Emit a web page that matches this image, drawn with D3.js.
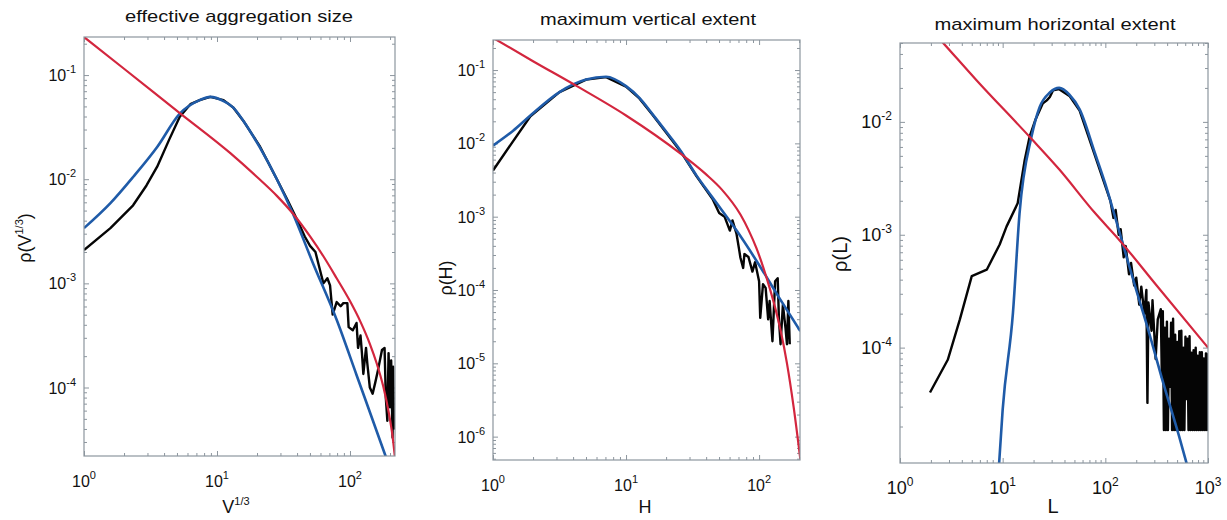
<!DOCTYPE html>
<html>
<head>
<meta charset="utf-8">
<script src="https://cdn.jsdelivr.net/npm/d3@7"></script>
<style>
body{margin:0;background:#fff;}
text{font-family:"Liberation Sans",Arial,sans-serif;fill:#111;}
</style>
</head>
<body>
<div id="chart"></div>
<script>

// ---- data ----
var titles = ["effective aggregation size","maximum vertical extent","maximum horizontal extent"];

// effective aggregation size  (x = V^1/3)
var sizeObs = [[1,2.09e-3],[1.58,3.39e-3],[2.34,5.62e-3],[2.95,8.71e-3],[3.55,0.0132],[4.37,0.024],[5.25,0.0398],
  [6.31,0.0525],[7.41,0.0575],[8.91,0.0617],[11.2,0.0575],[13.2,0.049],[15.8,0.0363],[20.9,0.0209],[28.2,0.01],
  [33.9,6.31e-3],[38.0,4.68e-3],[42.1,3.55e-3],[45.7,2.82e-3],[50.1,2.29e-3],[55.0,2.0e-3],[58.9,1.41e-3],
  [63.1,1.0e-3],[67.6,1.12e-3],[70.8,9.55e-4],[74.1,5.01e-4],[79.4,6.61e-4],[85.1,6.03e-4],[89.1,6.46e-4],
  [95.5,6.46e-4],[97.7,3.80e-4],[105,3.55e-4],[112,4.17e-4],[115,2.40e-4],[120,3.16e-4],[123,2.14e-4],
  [126,1.35e-4],[132,2.40e-4],[135,1.70e-4],[141,1.0e-4],[148,8.71e-5],[155,1.12e-4],[162,1.45e-4],
  [174,2.29e-4],[182,2.40e-4],[186,7.94e-5],[191,4.79e-5],[195,2.14e-4],[200,6.46e-5],[204,1.82e-4],
  [209,3.31e-5],[211,1.58e-4],[214,3.98e-5]];
var sizeLogn = [[1,3.39e-3],[1.58,5.89e-3],[2.34,0.0105],[3.55,0.0204],[5.25,0.0427],[7.41,0.0575],[8.91,0.0617],
  [11.2,0.0562],[13.2,0.049],[15.8,0.0363],[20.9,0.0204],[28.2,0.01],[37.2,4.68e-3],[52.5,1.58e-3],[79.4,4.47e-4],
  [112,1.32e-4],[182,2.34e-5],[200,1.66e-5]];
var sizePow = [[1,0.232],[2.0,0.115],[5.25,0.0432],[12.6,0.0178],[20,0.0105],[28.2,6.92e-3],[37.2,4.68e-3],
  [50.1,2.82e-3],[63.1,1.82e-3],[79.4,1.12e-3],[100,6.76e-4],[120,4.27e-4],[141,2.63e-4],[158,1.74e-4],
  [178,1.02e-4],[195,5.89e-5],[209,3.39e-5],[219,2.0e-5]];

// maximum vertical extent  (x = H)
var vertObs = [[1,4.27e-3],[1.38,0.01],[1.91,0.0234],[3.16,0.05],[5.01,0.0741],[7.08,0.08],[10,0.0595],
  [12.6,0.041],[15.8,0.0246],[20,0.0141],[25.7,7.76e-3],[33.9,3.55e-3],[44.7,1.74e-3],[50.1,1.12e-3],
  [55.0,1.0e-3],[60.3,6.46e-4],[63.1,8.91e-4],[67.6,5.89e-4],[70.8,3.55e-4],[72.4,2.75e-4],[75.9,2.0e-4],
  [77.6,3.09e-4],[83.2,2.82e-4],[89.1,1.78e-4],[93.3,2.40e-4],[100,1.32e-4],[102,4.17e-5],[107,1.20e-4],
  [112,1.07e-4],[117,3.98e-5],[120,7.08e-5],[126,2.0e-5],[132,1.32e-4],[138,1.45e-4],[141,3.98e-5],
  [145,1.82e-5],[151,6.31e-5],[158,3.02e-5],[162,1.82e-5],[166,7.08e-5],[170,1.82e-5]];
var vertLogn = [[1,9.33e-3],[1.41,0.0148],[1.91,0.024],[3.16,0.0501],[5.01,0.0741],[7.08,0.081],[10,0.0603],
  [12.6,0.0417],[15.8,0.0251],[20,0.0145],[25.7,7.94e-3],[33.9,3.63e-3],[44.7,1.82e-3],[68.4,6.31e-4],
  [95.5,2.51e-4],[141,7.94e-5],[204,2.75e-5]];
var vertPow = [[1,0.275],[2.0,0.132],[4.27,0.0603],[10,0.024],[25.7,7.24e-3],[39.8,3.80e-3],[52.5,2.34e-3],
  [72.4,1.07e-3],[83.2,6.61e-4],[95.5,3.72e-4],[107,2.09e-4],[120,1.07e-4],[132,5.75e-5],[145,2.82e-5],
  [162,1.0e-5],[182,2.51e-6],[204,5.0e-7]];

// maximum horizontal extent  (x = L)
var horizObs = [[1.96,4.0e-5],[2.92,7.8e-5],[3.83,1.78e-4],[5.0,4.3e-4],[7.0,4.9e-4],[9.35,8.2e-4],[10.9,1.18e-3],
  [14.0,1.9e-3],[16.4,4.6e-3],[18.3,7.4e-3],[20.9,0.0105],[24.5,0.0145],[26.9,0.0155],[28.8,0.0166],[30.9,0.019],
  [35.5,0.0195],[44.7,0.017],[56.2,0.0126],[79.4,5.0e-3],[100,2.7e-3],[112,2.0e-3],[120,1.41e-3],[126,1.66e-3],
  [135,1.0e-3],[141,1.12e-3],[151,6.31e-4],[158,7.94e-4],[170,4.47e-4],[178,5.62e-4],[191,3.55e-4],[200,4.17e-4],
  [214,2.40e-4],[224,3.47e-4],[240,2.0e-4],[251,3.24e-4],[257,3.24e-5],[263,2.51e-4],[282,1.41e-4],[288,2.63e-4],
  [309,7.94e-5],[324,1.78e-4],[347,2.19e-4],[355,5.5e-5],[363,2.1e-4],[372,1.86e-5],[380,1.5e-4],[389,1.86e-5],
  [398,1.7e-4],[407,1.86e-5],[417,1.2e-4],[427,4.5e-5],[437,1.66e-4],[447,1.86e-5],[457,1.8e-4],[468,1.86e-5],
  [479,1.3e-4],[490,1.86e-5],[501,1.12e-4],[513,1.86e-5],[525,1.4e-4],[537,1.86e-5],[550,1.41e-4],[562,1.86e-5],
  [575,1.0e-4],[589,1.86e-5],[603,1.25e-4],[617,3.5e-5],[631,1.2e-4],[646,1.86e-5],[661,1.26e-4],[676,1.86e-5],
  [692,9.0e-5],[708,1.86e-5],[724,9.5e-5],[741,1.86e-5],[759,1.0e-4],[776,1.86e-5],[794,8.5e-5],[813,1.86e-5],
  [832,9.1e-5],[851,1.86e-5],[871,9.1e-5],[891,1.86e-5],[912,8.0e-5],[933,1.86e-5],[955,8.9e-5],[977,1.86e-5],
  [1000,8.9e-5]];
var horizLogn = [[9.12,7.94e-6],[10,2.82e-5],[12.6,2.04e-4],[14.6,1.55e-3],[19.1,7.41e-3],[22.9,0.0135],[28.8,0.0182],
  [35.5,0.02],[44.7,0.0174],[56.2,0.0129],[79.4,5.25e-3],[100,2.82e-3],[126,1.38e-3],[158,6.76e-4],[200,3.24e-4],
  [269,1.32e-4],[355,5.37e-5],[525,1.62e-5],[661,7.59e-6]];
var horizPow = [[2.0,0.066],[2.63,0.0501],[5.56,0.0234],[18.2,7.41e-3],[35.5,3.80e-3],[78.2,1.58e-3],[138,8.91e-4],
  [316,3.55e-4],[1000,1.0e-4]];

var xMajor = [[1,10,100],[1,10,100],[1,10,100,1000]];
var yMajor = [[1e-1,1e-2,1e-3,1e-4],[1e-1,1e-2,1e-3,1e-4,1e-5,1e-6],[1e-2,1e-3,1e-4]];

// ---- layout ----
var panels = [
  {title:titles[0], obs:sizeObs, logn:sizeLogn, pow:sizePow, xMajor:xMajor[0], yMajor:yMajor[0],
   xDom:[1,218], yDom:[2.2e-5,0.232], box:{l:84,r:395,t:37,b:456}, titleY:22, titleW:228, titleX:239,
   font:16, xLab:"V", xSup:"1/3", yLab:"ρ(V", ySup:"1/3", yTail:")", xLabX:236, yLabX:31, yLabY:238},
  {title:titles[1], obs:vertObs, logn:vertLogn, pow:vertPow, xMajor:xMajor[1], yMajor:yMajor[1],
   xDom:[1,203], yDom:[4.8e-7,0.257], box:{l:493,r:800,t:40,b:460}, titleY:25, titleW:216, titleX:648,
   font:16, xLab:"H", xSup:"", yLab:"ρ(H)", ySup:"", yTail:"", xLabX:645, yLabX:452, yLabY:278},
  {title:titles[2], obs:horizObs, logn:horizLogn, pow:horizPow, xMajor:xMajor[2], yMajor:yMajor[2],
   xDom:[1,1000], yDom:[9.5e-6,0.05], box:{l:900,r:1208,t:43,b:463}, titleY:30, titleW:241, titleX:1055,
   font:18, xLab:"L", xSup:"", yLab:"ρ(L)", ySup:"", yTail:"", xLabX:1053, yLabX:847, yLabY:254}
];

var svg = d3.select("#chart").append("svg")
  .attr("width",1227).attr("height",520);

var boxColor = "#8d969e";
var blue = "#1f5ba8", red = "#d3263e";

function minorTicks(dom){
  var out = [];
  var lo = Math.floor(Math.log10(dom[0])), hi = Math.ceil(Math.log10(dom[1]));
  for(var e=lo; e<hi; e++){
    for(var k=2; k<10; k++){
      var v = k*Math.pow(10,e);
      if(v>=dom[0] && v<=dom[1]) out.push(v);
    }
  }
  return out;
}

panels.forEach(function(p, pi){
  var b = p.box;
  var x = d3.scaleLog().domain(p.xDom).range([b.l,b.r]);
  var y = d3.scaleLog().domain(p.yDom).range([b.b,b.t]);

  var g = svg.append("g").attr("class","panel");

  // ticks on all four sides, pointing in
  var xm = minorTicks(p.xDom), ym = minorTicks(p.yDom);
  function axisTicks(axisFn, scale, vals, size, tx, ty){
    var a = axisFn(scale).tickValues(vals).tickSize(size).tickSizeOuter(0).tickFormat("");
    var ag = g.append("g").attr("transform","translate("+tx+","+ty+")").call(a);
    ag.select(".domain").remove();
    ag.selectAll("line").attr("stroke",boxColor).attr("stroke-width",1);
  }
  axisTicks(d3.axisBottom, x, p.xMajor, -5, 0, b.b);
  axisTicks(d3.axisBottom, x, xm, -3, 0, b.b);
  axisTicks(d3.axisTop, x, p.xMajor, -5, 0, b.t);
  axisTicks(d3.axisTop, x, xm, -3, 0, b.t);
  axisTicks(d3.axisLeft, y, p.yMajor, -5, b.l, 0);
  axisTicks(d3.axisLeft, y, ym, -3, b.l, 0);
  axisTicks(d3.axisRight, y, p.yMajor, -5, b.r, 0);
  axisTicks(d3.axisRight, y, ym, -3, b.r, 0);

  // data lines
  var clipId = "clip"+pi;
  svg.append("clipPath").attr("id",clipId).append("rect")
    .attr("x",b.l).attr("y",b.t).attr("width",b.r-b.l).attr("height",b.b-b.t);
  var lg = g.append("g").attr("clip-path","url(#"+clipId+")");

  var rawLine = d3.line()
    .x(function(d){return x(d[0]);}).y(function(d){return y(d[1]);});
  var smooth = d3.line().curve(d3.curveMonotoneX)
    .x(function(d){return x(d[0]);}).y(function(d){return y(d[1]);});

  lg.append("path").datum(p.obs).attr("d",rawLine)
    .attr("fill","none").attr("stroke","#050505").attr("stroke-width",2.4).attr("stroke-linejoin","round");
  lg.append("path").datum(p.logn).attr("d",smooth)
    .attr("fill","none").attr("stroke",blue).attr("stroke-width",2.6);
  lg.append("path").datum(p.pow).attr("d",smooth)
    .attr("fill","none").attr("stroke",red).attr("stroke-width",2.2);

  // box
  g.append("rect").attr("x",b.l).attr("y",b.t).attr("width",b.r-b.l).attr("height",b.b-b.t)
    .attr("fill","none").attr("stroke",boxColor).attr("stroke-width",1.2);

  // tick labels
  var fs = p.font, sfs = Math.round(fs*0.68);
  p.xMajor.forEach(function(v){
    var t = g.append("text").attr("x",x(v)).attr("y",b.b+31).attr("text-anchor","middle")
      .style("font-size",fs+"px");
    t.append("tspan").text("10");
    t.append("tspan").attr("dy",-8).style("font-size",sfs+"px").text(Math.round(Math.log10(v)));
  });
  p.yMajor.forEach(function(v){
    var t = g.append("text").attr("x",b.l-8).attr("y",y(v)+6).attr("text-anchor","end")
      .style("font-size",fs+"px");
    t.append("tspan").text("10");
    t.append("tspan").attr("dy",-8).style("font-size",sfs+"px").text(Math.round(Math.log10(v)));
  });

  // title
  g.append("text").attr("x",p.titleX).attr("y",p.titleY)
    .attr("text-anchor","middle").style("font-size","17px")
    .attr("textLength",p.titleW).attr("lengthAdjust","spacingAndGlyphs").text(p.title);

  // x label
  var xl = g.append("text").attr("x",p.xLabX).attr("y",513).attr("text-anchor","middle")
    .style("font-size",(fs+2)+"px");
  xl.append("tspan").text(p.xLab);
  if(p.xSup) xl.append("tspan").attr("dy",-8).style("font-size",sfs+"px").text(p.xSup);

  // y label
  var yl = g.append("text").attr("transform","translate("+p.yLabX+","+p.yLabY+") rotate(-90)")
    .attr("text-anchor","middle").style("font-size",(fs+2)+"px");
  yl.append("tspan").text(p.yLab);
  if(p.ySup){
    yl.append("tspan").attr("dy",-8).style("font-size",sfs+"px").text(p.ySup);
    yl.append("tspan").attr("dy",8).text(p.yTail);
  }
});

</script>
</body>
</html>
